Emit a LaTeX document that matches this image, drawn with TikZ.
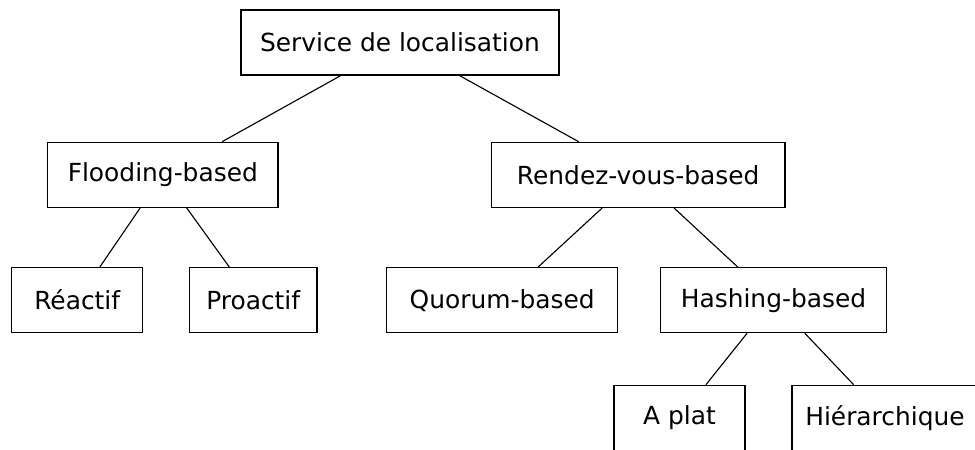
\documentclass[tikz,border=0pt]{standalone}
\usepackage{fontspec}
\setmainfont{DejaVu Sans}
\usepackage{tikz}

\tikzset{
    box/.style={draw, line width=0.8pt, minimum height=1.625cm, inner sep=0pt, font=\fontsize{17.7}{21}\selectfont},
    link/.style={line width=0.8pt}
}

\begin{document}
\begin{tikzpicture}[x=0.025cm, y=-0.025cm]
    \useasboundingbox (0, 0) rectangle (975, 449);
    \node[box, minimum width=7.95cm] (srv) at (400, 42.5) {Service de localisation};
    \node[box, minimum width=5.76cm] (flood) at (162.8, 174.8) {Flooding-based};
    \node[box, minimum width=7.34cm] (rdv) at (638.2, 174.8) {Rendez-vous-based};
    \node[box, minimum width=3.275cm] (react) at (77.2, 300.2) {Réactif};
    \node[box, minimum width=3.19cm] (proact) at (253.2, 300.2) {Proactif};
    \node[box, minimum width=5.775cm] (quorum) at (502.2, 300.2) {Quorum-based};
    \node[box, minimum width=5.64cm] (hash) at (773.5, 300.2) {Hashing-based};
    \node[box, minimum width=3.275cm] (flat) at (679.5, 417.8) {A plat};
    \node[box, minimum width=4.65cm] (hier) at (885, 417.8) {Hiérarchique};
    \draw[link] (srv) -- (flood);
    \draw[link] (srv) -- (rdv);
    \draw[link] (flood) -- (react);
    \draw[link] (flood) -- (proact);
    \draw[link] (rdv) -- (quorum);
    \draw[link] (rdv) -- (hash);
    \draw[link] (hash) -- (flat);
    \draw[link] (hash) -- (hier);
\end{tikzpicture}
\end{document}
